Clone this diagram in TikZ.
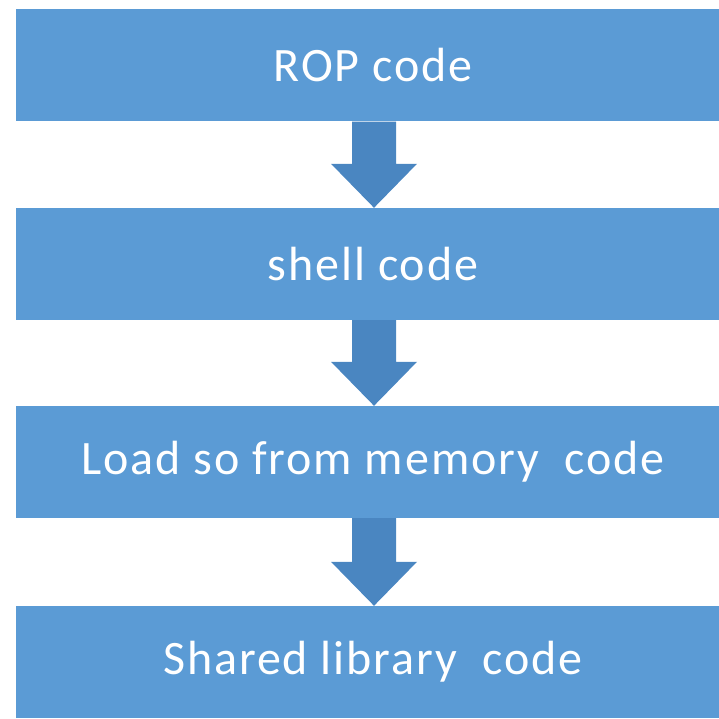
\documentclass[tikz,border=0pt]{standalone}
\usepackage{fontspec}
\setmainfont{Carlito}
\newfontfamily\stagefont[LetterSpace=4]{Carlito}
\usetikzlibrary{calc}
\definecolor{boxblue}{HTML}{5B9BD5}
\definecolor{arrowblue}{HTML}{4A86C1}

\begin{document}
\begin{tikzpicture}[x=1pt,y=-1pt]
		\tikzstyle{every node}+=[inner sep=0pt]
		\tikzstyle{stage}=[fill=boxblue, text=white, minimum width=714pt, minimum height=112pt, font=\stagefont\fontsize{48}{52}\selectfont]
		\tikzstyle{flow}=[fill=arrowblue]
		\useasboundingbox (0,0) rectangle (719,719);
		\node [stage] (rop) at (373,65.5) {ROP code};
		\node [stage] (shell) at (373,264) {shell code};
		\node [stage] (load) at (373,462) {Load so from memory~ code};
		\node [stage] (shared) at (373,662) {Shared library~ code};
		\foreach \a/\b in {rop/shell, shell/load, load/shared}
			\fill [flow] ($(\a.south)+(-21,0)$) -- ($(\a.south)+(23,0)$) -- ($(\b.north)+(23,-44)$) -- ($(\b.north)+(44,-44)$) -- ($(\b.north)+(1,0)$) -- ($(\b.north)+(-42,-44)$) -- ($(\b.north)+(-21,-44)$) -- cycle;
	\end{tikzpicture}
\end{document}
